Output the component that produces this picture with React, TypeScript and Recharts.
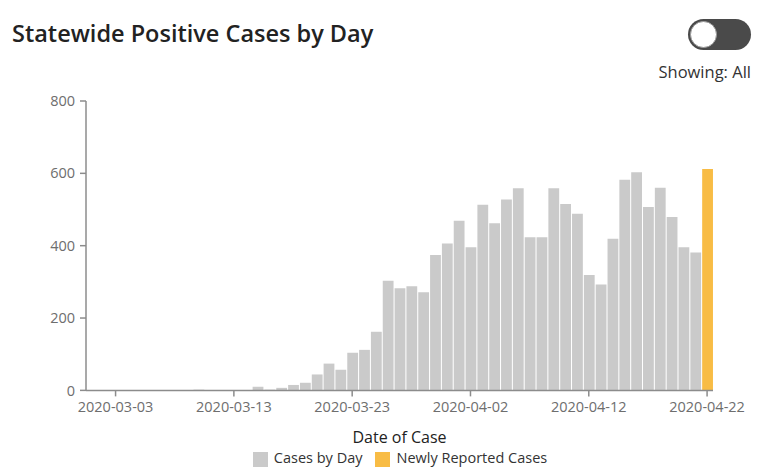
import { BarChart, Bar, XAxis, YAxis, Legend } from 'recharts';

const DATES = [
  '2020-03-01', '2020-03-02', '2020-03-03', '2020-03-04', '2020-03-05', '2020-03-06',
  '2020-03-07', '2020-03-08', '2020-03-09', '2020-03-10', '2020-03-11', '2020-03-12',
  '2020-03-13', '2020-03-14', '2020-03-15', '2020-03-16', '2020-03-17', '2020-03-18',
  '2020-03-19', '2020-03-20', '2020-03-21', '2020-03-22', '2020-03-23', '2020-03-24',
  '2020-03-25', '2020-03-26', '2020-03-27', '2020-03-28', '2020-03-29', '2020-03-30',
  '2020-03-31', '2020-04-01', '2020-04-02', '2020-04-03', '2020-04-04', '2020-04-05',
  '2020-04-06', '2020-04-07', '2020-04-08', '2020-04-09', '2020-04-10', '2020-04-11',
  '2020-04-12', '2020-04-13', '2020-04-14', '2020-04-15', '2020-04-16', '2020-04-17',
  '2020-04-18', '2020-04-19', '2020-04-20', '2020-04-21', '2020-04-22',
];

// cases by day (last date has no confirmed count yet)
const CASES_BY_DAY = [
  0, 0, 0, 0, 0, 0, 0, 1, 0, 2, 1, 0, 1, 0, 10, 2, 7, 15,
  21, 44, 74, 57, 104, 112, 162, 303, 282, 288, 271, 374, 406, 469,
  396, 513, 462, 528, 559, 423, 423, 559, 515, 488, 319, 293, 419,
  582, 603, 507, 560, 479, 396, 381, 0,
];

const NEWLY_REPORTED = [
  0, 0, 0, 0, 0, 0, 0, 0, 0, 0, 0, 0, 0, 0, 0, 0, 0, 0,
  0, 0, 0, 0, 0, 0, 0, 0, 0, 0, 0, 0, 0, 0,
  0, 0, 0, 0, 0, 0, 0, 0, 0, 0, 0, 0, 0,
  0, 0, 0, 0, 0, 0, 0, 612,
];

const X_TICKS = ['2020-03-03', '2020-03-13', '2020-03-23', '2020-04-02', '2020-04-12', '2020-04-22'];
const Y_TICKS = [0, 200, 400, 600, 800];

const FONT = '"Open Sans", "Noto Sans", sans-serif';
const AXIS_COLOR = '#8c8c8c';
const TICK_STYLE = { fontFamily: FONT, fontSize: 14.5, fill: '#6e6e6e' };

export default function App() {
  const chartData = DATES.map((date, i) => ({
    date,
    cases: CASES_BY_DAY[i],
    newly: NEWLY_REPORTED[i],
  }));

  return (
    <div
      style={{
        position: 'absolute',
        left: 0,
        top: 0,
        width: 764,
        height: 473,
        background: '#fff',
        fontFamily: FONT,
      }}
    >
      <div
        style={{
          position: 'absolute',
          left: 12,
          top: 22,
          fontSize: 23.5,
          fontWeight: 600,
          lineHeight: 1,
          color: '#222',
          whiteSpace: 'nowrap',
        }}
      >
        Statewide Positive Cases by Day
      </div>

      {/* toggle switch */}
      <div
        style={{
          position: 'absolute',
          left: 688,
          top: 19,
          width: 63,
          height: 31,
          borderRadius: 16,
          background: '#4a4a4a',
        }}
      >
        <div
          style={{
            position: 'absolute',
            left: 2,
            top: 2,
            width: 25,
            height: 25,
            borderRadius: '50%',
            background: '#fff',
            border: '1px solid #9a9a9a',
          }}
        />
      </div>

      <div
        style={{
          position: 'absolute',
          right: 13,
          top: 64,
          fontSize: 16.5,
          lineHeight: 1,
          color: '#333',
          whiteSpace: 'nowrap',
        }}
      >
        Showing: All
      </div>

      <div style={{ position: 'absolute', left: 0, top: 0 }}>
        <BarChart
          width={764}
          height={473}
          data={chartData}
          margin={{ top: 101, right: 51, left: 0, bottom: 36 }}
        >
          <XAxis
            dataKey="date"
            type="category"
            ticks={X_TICKS}
            interval={0}
            height={30}
            tick={TICK_STYLE}
            tickSize={6}
            tickMargin={5}
            axisLine={{ stroke: AXIS_COLOR, strokeWidth: 1.5 }}
            tickLine={{ stroke: AXIS_COLOR, strokeWidth: 1.5 }}
            label={{
              value: 'Date of Case',
              position: 'bottom',
              offset: 11,
              fill: '#222',
              fontSize: 16,
              fontFamily: FONT,
            }}
          />
          <YAxis
            type="number"
            domain={[0, 800]}
            ticks={Y_TICKS}
            width={86}
            tick={TICK_STYLE}
            tickSize={6}
            tickMargin={5}
            axisLine={{ stroke: AXIS_COLOR, strokeWidth: 1.5 }}
            tickLine={{ stroke: AXIS_COLOR, strokeWidth: 1.5 }}
          />
          <Legend
            verticalAlign="bottom"
            align="center"
            iconType="square"
            iconSize={15}
            wrapperStyle={{
              left: 93,
              width: 627,
              top: 450,
              fontFamily: FONT,
              fontSize: 14.5,
              color: '#333',
              lineHeight: '16px',
            }}
            formatter={(value) => (
              <span style={{ color: '#333', marginLeft: 2, marginRight: 3 }}>{value}</span>
            )}
          />
          <Bar
            dataKey="cases"
            name="Cases by Day"
            stackId="day"
            fill="#cacaca"
            barSize={10.8}
            isAnimationActive={false}
          />
          <Bar
            dataKey="newly"
            name="Newly Reported Cases"
            stackId="day"
            fill="#f8bc45"
            barSize={10.8}
            isAnimationActive={false}
          />
        </BarChart>
      </div>
    </div>
  );
}
